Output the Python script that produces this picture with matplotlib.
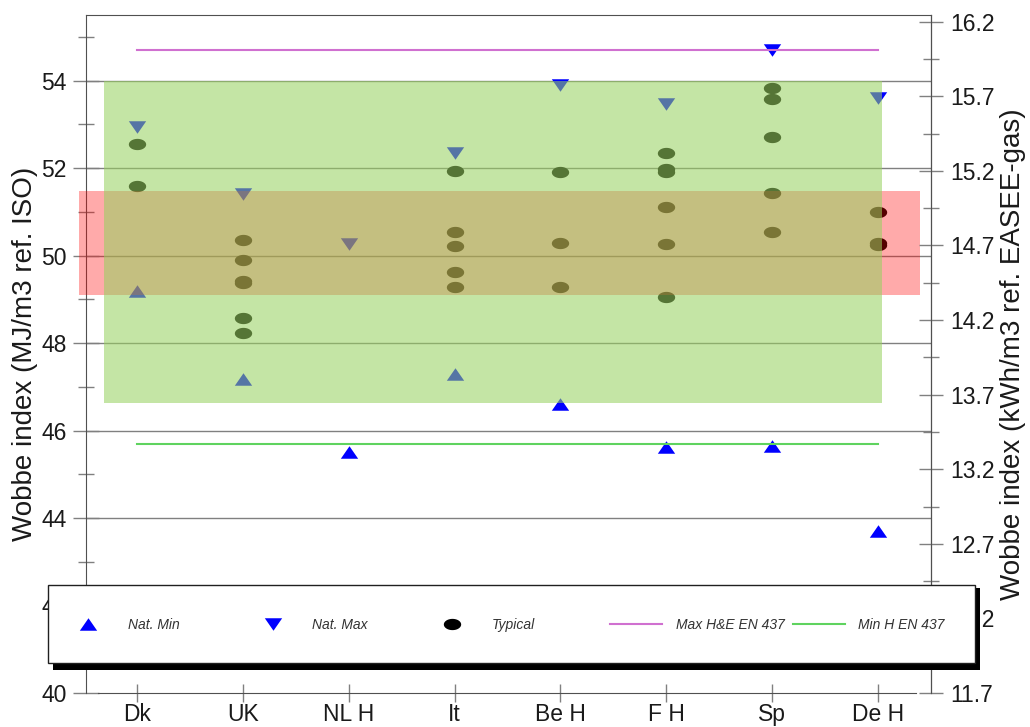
import matplotlib
matplotlib.use("Agg")
import matplotlib.pyplot as plt
import numpy as np
from matplotlib.lines import Line2D
from matplotlib.patches import Rectangle

# Wobbe index per country, MJ/m3 ref. ISO
countries = ["Dk", "UK", "NL H", "It", "Be H", "F H", "Sp", "De H"]
nat_min = [49.20, 47.18, 45.50, 47.30, 46.61, 45.63, 45.64, 43.71]
nat_max = [52.93, 51.40, 50.26, 52.34, 53.89, 53.47, 54.69, 53.60]
typical = [
    [52.56, 51.60],
    [50.36, 49.90, 49.42, 49.37, 48.58, 48.22],
    [],
    [51.94, 50.53, 50.21, 49.62, 49.27],
    [51.91, 50.29, 49.29],
    [52.34, 51.97, 51.92, 51.11, 50.26, 49.05],
    [53.83, 53.58, 52.72, 51.43, 50.53],
    [50.99, 50.29, 50.23],
]
en437_max = 54.70
en437_min = 45.69

# shaded ranges: x from, x to (category units), y from, y to (MJ/m3)
green_band = [-0.31, 7.04, 46.62, 54.0]
red_band = [-0.55, 7.40, 49.09, 51.48]

mj_ticks = [40, 42, 44, 46, 48, 50, 52, 54]
kwh_ticks = [11.7, 12.2, 12.7, 13.2, 13.7, 14.2, 14.7, 15.2, 15.7, 16.2]

FONT = ["Liberation Sans", "DejaVu Sans"]

# marker shapes (a bit flattened, like the original)
tri_up = [(0, 0.72), (-1, -0.72), (1, -0.72)]
tri_down = [(0, -0.72), (-1, 0.72), (1, 0.72)]
t = np.linspace(0, 2 * np.pi, 41)
ellipse = list(zip(np.cos(t), 0.65 * np.sin(t)))

fig = plt.figure(figsize=(10.3, 7.27), dpi=100)
ax = fig.add_axes([0.0835, 0.0468, 0.8204, 0.9326])
ax.set_xlim(-0.48, 7.5)
ax.set_ylim(40, 55.5)

xs = np.arange(len(countries))
mk = dict(linestyle="none", markersize=12.5, markeredgewidth=0, zorder=2)
ax.plot(xs, nat_min, marker=tri_up, color="#0000ff", **mk)
ax.plot(xs, nat_max, marker=tri_down, color="#0000ff", **mk)
tx = [i for i, vals in enumerate(typical) for _ in vals]
ty = [v for vals in typical for v in vals]
ax.plot(tx, ty, marker=ellipse, color="black", **mk)

ax.plot([xs[0], xs[-1]], [en437_max, en437_max], color="#d070d0", lw=1.5, zorder=2)
ax.plot([xs[0], xs[-1]], [en437_min, en437_min], color="#5fd35f", lw=1.5, zorder=2)

# translucent bands drawn over the markers
ax.fill_between(red_band[:2], red_band[2], red_band[3], color=(1, 0, 0),
                alpha=0.333, lw=0, zorder=3, clip_on=False)
ax.fill_between(green_band[:2], green_band[2], green_band[3], color=(152 / 255, 209 / 255, 96 / 255),
                alpha=0.565, lw=0, zorder=4, clip_on=False)

# left axis
ax.set_yticks(mj_ticks)
ax.set_yticks([v + 1 for v in mj_ticks], minor=True)
ax.set_yticklabels([str(v) for v in mj_ticks], fontfamily=FONT)
ax.set_axisbelow(True)
ax.grid(axis="y", which="major", color="#808080", lw=1)
ax.get_ygridlines()[0].set_visible(False)
ax.tick_params(axis="y", which="major", direction="inout", length=19, width=1,
               color="#808080", pad=4.5, labelsize=16.5, labelcolor="#1a1a1a")
ax.tick_params(axis="y", which="minor", direction="inout", length=11.5, width=1, color="#808080")
ax.set_ylabel("Wobbe index (MJ/m3 ref. ISO)", fontsize=20, fontfamily=FONT, labelpad=2, color="#1a1a1a")

# category axis
ax.set_xticks(xs)
ax.set_xticklabels(countries, fontfamily=FONT)
ax.tick_params(axis="x", direction="inout", length=13, width=1, color="#808080",
               pad=0.5, labelsize=16.5, labelcolor="#1a1a1a")
ax.spines["bottom"].set_bounds(-0.37, 7.36)
for side in ["left", "top", "bottom"]:
    ax.spines[side].set_color("#505050")

# right axis, kWh/m3 ref. EASEE-gas
ax2 = ax.twinx()
ax2.set_ylim(11.7, 16.245)
ax2.set_yticks(kwh_ticks)
ax2.set_yticks([v + 0.25 for v in kwh_ticks[:-1]], minor=True)
ax2.set_yticklabels([f"{v:.1f}" for v in kwh_ticks], fontfamily=FONT)
ax2.tick_params(axis="y", which="major", direction="inout", length=17, width=1,
                color="#808080", pad=5, labelsize=16.5, labelcolor="#1a1a1a")
ax2.tick_params(axis="y", which="minor", direction="inout", length=11.5, width=1, color="#808080")
ax2.set_ylabel("Wobbe index (kWh/m3 ref. EASEE-gas)", fontsize=20, fontfamily=FONT,
               labelpad=4, color="#1a1a1a")
for side in ax2.spines:
    ax2.spines[side].set_visible(side == "right")
ax2.spines["right"].set_color("#505050")

# legend box with a hard black shadow, laid over the bottom of the plot
W, H = 1030.0, 727.0
fig.patches.append(Rectangle((53 / W, 1 - 670 / H), 927 / W, 82 / H, transform=fig.transFigure,
                             facecolor="black", edgecolor="none", zorder=10))
fig.patches.append(Rectangle((48.3 / W, 1 - 663.3 / H), 926.7 / W, 78.3 / H, transform=fig.transFigure,
                             facecolor="white", edgecolor="#202020", lw=1, zorder=11))

handles = [
    Line2D([], [], linestyle="none", marker=tri_up, color="#0000ff", markersize=12.5, markeredgewidth=0),
    Line2D([], [], linestyle="none", marker=tri_down, color="#0000ff", markersize=12.5, markeredgewidth=0),
    Line2D([], [], linestyle="none", marker=ellipse, color="black", markersize=12.5, markeredgewidth=0),
    Line2D([], [], color="#d070d0", lw=1.5),
    Line2D([], [], color="#5fd35f", lw=1.5),
]
labels = ["Nat. Min", "Nat. Max", "Typical", "Max H&E EN 437", "Min H EN 437"]
starts = [62, 246.7, 426, 610, 792.7]
for h, lab, x0 in zip(handles, labels, starts):
    leg = fig.legend([h], [lab], loc="center left", bbox_to_anchor=(x0 / W, 1 - 625 / H),
                     frameon=False, borderaxespad=0, borderpad=0, handlelength=3.74,
                     handletextpad=0.98,
                     prop=dict(family=FONT, style="italic", size=10))
    leg.set_zorder(12)
    leg.get_texts()[0].set_color("#333333")

fig.savefig("out.png", dpi=100)
